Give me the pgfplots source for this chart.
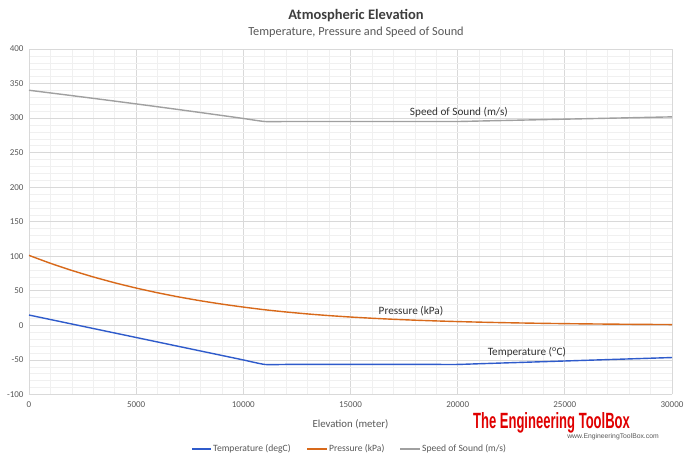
\documentclass[border=0pt]{standalone}
\usepackage{pgfplots}
\pgfplotsset{compat=1.18}
\usepackage{graphicx}
\usepackage{fontspec}
\setmainfont{Carlito}
\newfontfamily\wmfont{Liberation Sans}

\definecolor{tempblue}{HTML}{2F5BCB}
\definecolor{presorange}{HTML}{D8691A}
\definecolor{soundgray}{HTML}{A0A0A0}
\definecolor{majgrid}{HTML}{D9D9D9}
\definecolor{mingrid}{HTML}{F0F0F0}
\definecolor{txtgray}{HTML}{595959}
\definecolor{wmred}{HTML}{E00000}

% U.S. Standard Atmosphere: elevation (m), temperature (degC), pressure (kPa), speed of sound (m/s)
\pgfplotstableread{
h      T      p        a
0      15.0   101.325  340.29
1000   8.5    89.876   336.43
2000   2.0    79.501   332.53
3000   -4.5   70.121   328.58
4000   -11.0  61.660   324.58
5000   -17.5  54.048   320.53
6000   -24.0  47.217   316.43
7000   -30.5  41.105   312.27
8000   -37.0  35.651   308.06
9000   -43.5  30.800   303.79
10000  -50.0  26.500   299.46
11000  -56.5  22.632   295.07
12000  -56.5  19.399   295.07
13000  -56.5  16.579   295.07
14000  -56.5  14.170   295.07
15000  -56.5  12.111   295.07
16000  -56.5  10.352   295.07
17000  -56.5  8.850    295.07
18000  -56.5  7.565    295.07
19000  -56.5  6.467    295.07
20000  -56.5  5.529    295.07
21000  -55.5  4.729    295.75
22000  -54.5  4.048    296.43
23000  -53.5  3.467    297.10
24000  -52.5  2.972    297.77
25000  -51.5  2.549    298.45
26000  -50.5  2.188    299.12
27000  -49.5  1.880    299.79
28000  -48.5  1.616    300.46
29000  -47.5  1.390    301.13
30000  -46.5  1.197    301.80
}\atmos

\begin{document}
\begin{tikzpicture}[x=1pt,y=1pt]
% page frame; the plot area's lower-left corner sits at the origin
\useasboundingbox (-29,-65.5) rectangle (662,394.5);
\fill[white] (-29,-65.5) rectangle (662,394.5);

% titles
\node[font=\fontsize{14.5}{16}\selectfont\bfseries, text=txtgray!70!black] at (327,378.5) {Atmospheric Elevation};
\node[font=\fontsize{12.3}{14}\selectfont, text=txtgray] at (327,362.5) {Temperature, Pressure and Speed of Sound};

\begin{axis}[
  scale only axis, width=643pt, height=345.5pt,
  xmin=0, xmax=30000, ymin=-100, ymax=400,
  xtick={0,5000,...,30000}, ytick={-100,-50,...,400},
  minor x tick num=4, minor y tick num=4,
  grid=both,
  major grid style={majgrid, line width=0.7pt},
  minor grid style={mingrid, line width=0.6pt},
  axis line style={majgrid, line width=0.8pt},
  axis x line*=bottom, axis y line*=left,
  tick style={draw=none},
  major tick length=0pt, minor tick length=0pt,
  scaled ticks=false,
  /pgf/number format/1000 sep={},
  /pgf/number format/fixed,
  /pgf/number format/assume math mode=true,
  ticklabel style={font=\fontsize{9}{10}\selectfont, text=txtgray},
  xticklabel style={yshift=-4pt},
  yticklabel style={xshift=-2pt},
  xlabel={Elevation (meter)},
  xlabel style={font=\fontsize{10.8}{12}\selectfont, text=txtgray, yshift=-5pt},
  clip=false,
]
\addplot[color=tempblue, line width=1.4pt, smooth, tension=0.35] table[x=h, y=T] {\atmos};
\addplot[color=presorange, line width=1.4pt, smooth, tension=0.35] table[x=h, y=p] {\atmos};
\addplot[color=soundgray, line width=1.4pt, smooth, tension=0.35] table[x=h, y=a] {\atmos};

\node[font=\fontsize{11.2}{13}\selectfont, text=black!80] at (axis cs:20060,309) {Speed of Sound (m/s)};
\node[font=\fontsize{11.2}{13}\selectfont, text=black!80] at (axis cs:17820,21) {Pressure (kPa)};
\node[font=\fontsize{11.2}{13}\selectfont, text=black!80] at (axis cs:23230,-38.5) {Temperature (\textsuperscript{o}C)};
\end{axis}

% legend below the plot
\begin{scope}[every node/.style={font=\fontsize{9.6}{11}\selectfont, text=txtgray, anchor=west, inner sep=0pt}]
  \draw[tempblue, line width=1.4pt] (163,-54.5) -- (182,-54.5);
  \node at (184,-54.5) {Temperature (degC)};
  \draw[presorange, line width=1.4pt] (278,-54.5) -- (298,-54.5);
  \node at (300,-54.5) {Pressure (kPa)};
  \draw[soundgray, line width=1.4pt] (371,-54.5) -- (391,-54.5);
  \node at (393,-54.5) {Speed of Sound (m/s)};
\end{scope}

% watermark
\node[text=wmred, inner sep=0pt] at (522.5,-28) {\scalebox{0.62}[1.05]{\wmfont\fontsize{21}{22}\selectfont\bfseries The Engineering ToolBox}};
\node[text=txtgray, inner sep=0pt, font=\wmfont\fontsize{6.8}{8}\selectfont] at (584,-42.5) {www.EngineeringToolBox.com};
\end{tikzpicture}
\end{document}
